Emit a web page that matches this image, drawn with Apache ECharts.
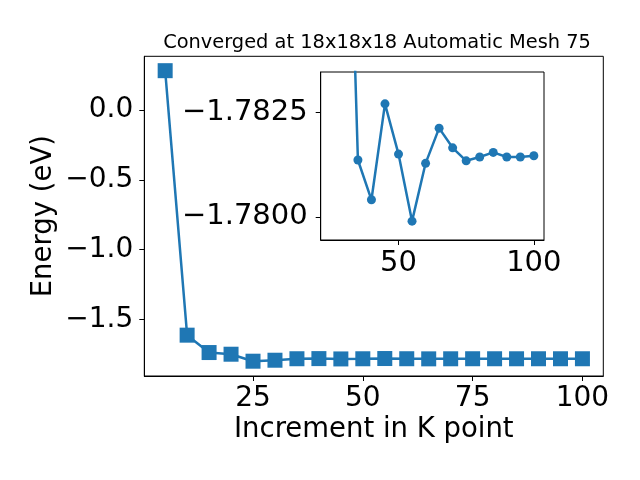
<!DOCTYPE html>
<html>
<head>
<meta charset="utf-8">
<script src="https://cdn.jsdelivr.net/npm/echarts@6/dist/echarts.min.js"></script>
<style>html,body{margin:0;padding:0;background:#fff}#c{width:640px;height:480px}</style>
</head>
<body>
<div id="c"></div>
<script>
const kpoints = [5,10,15,20,25,30,35,40,45,50,55,60,65,70,75,80,85,90,95,100];
const energies = [0.282,-1.6125,-1.737,-1.749,-1.799,-1.792,-1.78136,-1.78041,-1.78270,-1.78150,-1.77990,-1.78128,-1.78212,-1.78165,-1.78134,-1.78143,-1.78154,-1.78143,-1.78143,-1.78146];
const insetStart = 4; // inset shows points from 25 onward
const mainXTicks = [25,50,75,100];
const mainYTicks = [-1.5,-1.0,-0.5,0.0];
const insetXTicks = [50,100];
const insetYTicks = [-1.7825,-1.7800];
const titleText = 'Converged at 18x18x18 Automatic Mesh 75';
const xName = 'Increment in K point';
const yName = 'Energy (eV)';

const color = '#1f77b4';
const font = 'DejaVu Sans';
const minus = s => s.replace('-', '\u2212');

const mainData = kpoints.map((k,i)=>[k, energies[i]]);
const insetData = kpoints.slice(insetStart).map((k,i)=>[k, energies[i+insetStart]]);

const axisLine = {show:true,onZero:false,lineStyle:{color:'#000',width:1}};
const tick = vals => ({show:true,length:5,customValues:vals,lineStyle:{color:'#000',width:1}});

const chart = echarts.init(document.getElementById('c'), null, {renderer:'canvas'});
chart.setOption({
  animation:false,
  backgroundColor:'#fff',
  title:{text:titleText,left:372,top:28,textAlign:'center',
    textStyle:{fontFamily:font,fontSize:19.4,fontWeight:'normal',color:'#000'}},
  grid:[
    {left:144.3,top:56.3,width:459,height:319.7,show:true,borderColor:'#000',borderWidth:1,backgroundColor:'transparent'},
    {left:320.7,top:72,width:223.3,height:168,show:true,borderColor:'#000',borderWidth:1,backgroundColor:'#fff',z:5}
  ],
  xAxis:[
    {gridIndex:0,type:'value',min:0.25,max:104.75,splitLine:{show:false},axisLine:axisLine,
      name:xName,nameLocation:'middle',nameGap:40,nameMoveOverlap:false,
      nameTextStyle:{fontFamily:font,fontSize:27.5,color:'#000'},
      axisTick:tick(mainXTicks),
      axisLabel:{customValues:mainXTicks,fontFamily:font,fontSize:28,color:'#000',margin:9}},
    {gridIndex:1,type:'value',min:21.25,max:103.75,z:6,splitLine:{show:false},axisLine:axisLine,
      axisTick:tick(insetXTicks),
      axisLabel:{customValues:insetXTicks,fontFamily:font,fontSize:29,color:'#000',margin:9}}
  ],
  yAxis:[
    {gridIndex:0,type:'value',min:-1.905,max:0.385,splitLine:{show:false},axisLine:axisLine,
      name:yName,nameLocation:'middle',nameGap:86,nameRotate:90,nameMoveOverlap:false,
      nameTextStyle:{fontFamily:font,fontSize:27.5,color:'#000'},
      axisTick:tick(mainYTicks),
      axisLabel:{customValues:mainYTicks,fontFamily:font,fontSize:28,color:'#000',margin:11,
        formatter:v=>minus(v.toFixed(1))}},
    {gridIndex:1,type:'value',inverse:true,min:-1.78346,max:-1.77945,z:6,splitLine:{show:false},axisLine:axisLine,
      axisTick:tick(insetYTicks),
      axisLabel:{customValues:insetYTicks,fontFamily:font,fontSize:29,color:'#000',margin:13,
        formatter:v=>minus(v.toFixed(4))}}
  ],
  series:[
    {type:'line',xAxisIndex:0,yAxisIndex:0,data:mainData,symbol:'rect',symbolSize:15,
      lineStyle:{color:color,width:2.5},itemStyle:{color:color},z:2},
    {type:'line',xAxisIndex:1,yAxisIndex:1,data:insetData,symbol:'circle',symbolSize:9,clip:true,
      lineStyle:{color:color,width:2.5},itemStyle:{color:color},z:7}
  ]
});
</script>
</body>
</html>
